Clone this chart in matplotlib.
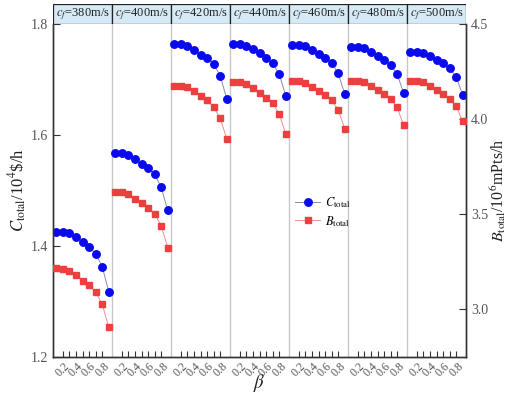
import matplotlib
matplotlib.use("Agg")
import matplotlib.pyplot as plt
from matplotlib.patches import Rectangle
import numpy as np

plt.rcParams['font.family'] = ['Liberation Serif', 'DejaVu Serif']
plt.rcParams['mathtext.fontset'] = 'stix'

# ---------------- data ----------------
beta = [0.1, 0.2, 0.3, 0.4, 0.5, 0.6, 0.7, 0.8, 0.9]
cf_labels = ['380', '400', '420', '440', '460', '480', '500']

C_total = [
    [1.426, 1.426, 1.424, 1.416, 1.407, 1.399, 1.386, 1.363, 1.318],
    [1.567, 1.567, 1.564, 1.557, 1.548, 1.541, 1.529, 1.506, 1.464],
    [1.764, 1.764, 1.761, 1.754, 1.745, 1.738, 1.728, 1.707, 1.665],
    [1.764, 1.764, 1.761, 1.755, 1.747, 1.739, 1.729, 1.710, 1.671],
    [1.763, 1.763, 1.761, 1.754, 1.746, 1.738, 1.730, 1.711, 1.674],
    [1.758, 1.758, 1.756, 1.750, 1.742, 1.735, 1.726, 1.710, 1.675],
    [1.749, 1.749, 1.747, 1.743, 1.735, 1.729, 1.720, 1.705, 1.672],
]
B_total = [
    [3.217, 3.213, 3.203, 3.182, 3.152, 3.129, 3.091, 3.027, 2.908],
    [3.617, 3.615, 3.606, 3.582, 3.559, 3.533, 3.503, 3.440, 3.325],
    [4.176, 4.176, 4.170, 4.146, 4.124, 4.099, 4.062, 4.006, 3.897],
    [4.194, 4.194, 4.185, 4.164, 4.138, 4.112, 4.085, 4.027, 3.924],
    [4.199, 4.199, 4.191, 4.170, 4.150, 4.125, 4.099, 4.050, 3.950],
    [4.203, 4.203, 4.196, 4.176, 4.155, 4.133, 4.106, 4.062, 3.967],
    [4.199, 4.199, 4.194, 4.176, 4.155, 4.134, 4.106, 4.067, 3.988],
]
xtick_vals = [0.2, 0.3, 0.4, 0.5, 0.6, 0.7, 0.8]
xtick_labels = ['0.2', '', '0.4', '', '0.6', '', '0.8']
left_ticks = [1.2, 1.4, 1.6, 1.8]
right_ticks = [3.0, 3.5, 4.0, 4.5]

# ---------------- layout ----------------
W, H = 507, 395
fig = plt.figure(figsize=(W / 100, H / 100), dpi=100)
L, R, B, T = 53, 466, 357, 24
ax = fig.add_axes([L / W, (H - B) / H, (R - L) / W, (B - T) / H])
ax2 = ax.twinx()

pw = 0.9          # panel width in beta units
x0 = 0.05         # beta at panel left edge
npan = len(cf_labels)

blue = '#0a0af0'
red = '#ec4040'

for i in range(npan):
    xs = [i * pw + b - x0 for b in beta]
    ax.plot(xs, C_total[i], color='#8a8ab0', lw=0.7, zorder=2)
    ax.plot(xs, C_total[i], ls='none', marker='o', ms=5.4, color=blue,
            mec=blue, zorder=3)
    ax2.plot(xs, B_total[i], color='#f09090', lw=0.7, zorder=2)
    ax2.plot(xs, B_total[i], ls='none', marker='s', ms=4.5, color=red,
             mec=red, zorder=3)
    if i > 0:
        ax.axvline(i * pw, color='#c8c8c8', lw=1.0, zorder=1)

ax.set_xlim(0, npan * pw)
ax.set_ylim(1.2, 1.8)
ax2.set_ylim(2.75, 4.5)

xt, xl = [], []
for i in range(npan):
    for v, lab in zip(xtick_vals, xtick_labels):
        xt.append(i * pw + v - x0)
        xl.append(lab)
ax.set_xticks(xt)
ax.set_xticklabels(xl, rotation=45, ha='center', va='top', fontsize=8.5)
ax.tick_params(axis='x', direction='in', length=4, width=0.8, pad=2,
               colors='#333333', labelcolor='#555555')

ax.set_yticks(left_ticks)
ax.set_yticklabels([f'{v:.1f}' for v in left_ticks], fontsize=10)
ax.tick_params(axis='y', direction='in', length=5, width=0.8, colors='#333333',
               labelcolor='#555555')

ax2.set_yticks(right_ticks)
ax2.set_yticklabels([f'{v:.1f}' for v in right_ticks], fontsize=10)
ax2.tick_params(axis='y', direction='in', length=5, width=0.8, colors='#333333',
                labelcolor='#555555')

for a in (ax, ax2):
    for s in ('left', 'right', 'bottom'):
        a.spines[s].set_color('#333333')
        a.spines[s].set_linewidth(1.0)
    a.spines['top'].set_visible(False)

fig.text((L + R) / 2 / W, 1 - 383 / H, r'$\beta$', fontsize=13.5,
         color='#222222', ha='center', va='center')
ax.set_ylabel(r'$C_{\mathrm{total}}$/10$^{4}$\$/h', fontsize=12, labelpad=1,
              color='#222222')
ax2.set_ylabel(r'$B_{\mathrm{total}}$/10$^{6}$mPts/h', fontsize=11.5, labelpad=0,
               color='#222222', rotation=90)

# legend
h1, = ax.plot([], [], color='#8a8ab0', lw=0.7, marker='o', ms=5.4,
              mfc=blue, mec=blue)
h2, = ax.plot([], [], color='#f09090', lw=0.7, marker='s', ms=4.5,
              mfc=red, mec=red)
ax.legend([h1, h2], [r'$C_{\mathrm{total}}$', r'$B_{\mathrm{total}}$'],
          loc='upper left', bbox_to_anchor=((289 - L) / (R - L), (B - 189) / (B - T)),
          frameon=False, fontsize=9, handlelength=2.0, handletextpad=0.4,
          labelspacing=0.3, borderpad=0.0)

# header strip
hax = fig.add_axes([L / W, (H - T) / H, (R - L) / W, 20 / H])
hax.set_xlim(0, npan)
hax.set_ylim(0, 1)
hax.axis('off')
for i, c in enumerate(cf_labels):
    hax.add_patch(Rectangle((i, 0), 1, 1, facecolor='#d5eaf5',
                            edgecolor='#222222', lw=0.9))
    hax.text(i + 0.5, 0.48, r'$c_f$=' + c + 'm/s', ha='center', va='center',
             fontsize=9, color='#222222')

fig.savefig('out.png', dpi=100)
